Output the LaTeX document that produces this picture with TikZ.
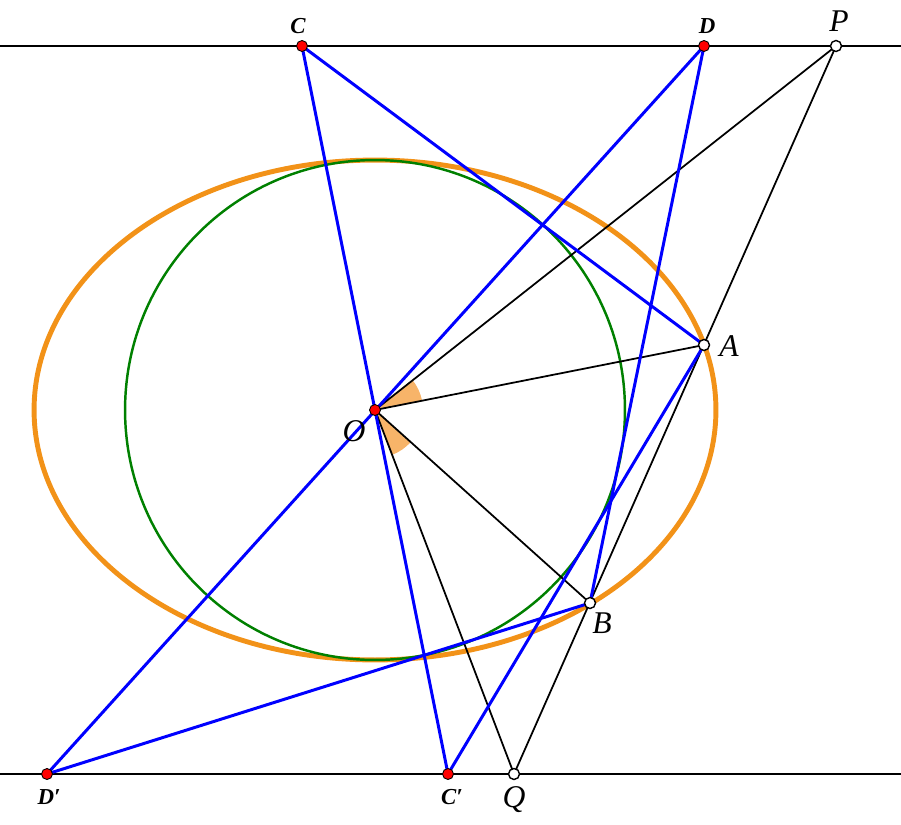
\documentclass[tikz,border=0pt]{standalone}
\usepackage{fontspec}
\setmainfont{Liberation Serif}
\definecolor{ellorange}{RGB}{242,146,24}
\definecolor{angorange}{RGB}{247,180,105}
\definecolor{circgreen}{RGB}{0,128,0}

\begin{document}
\begin{tikzpicture}[x=0.02cm, y=-0.02cm,
    blk/.style={black, line width=1pt},
    blu/.style={blue, line width=1.7pt},
    redpt/.style={fill=red, draw=black, line width=0.5pt},
    openpt/.style={fill=white, draw=black, line width=0.8pt},
    biglab/.style={font=\fontsize{18}{21}\selectfont\itshape},
    smalllab/.style={font=\fontsize{13}{15}\selectfont\bfseries\itshape}]
  \useasboundingbox (0,0) rectangle (901,824);
  \def\r{0.11cm}
  % points
  \coordinate (O) at (375,410);
  \coordinate (A) at (704,345);
  \coordinate (B) at (590,603);
  \coordinate (C) at (302,46);
  \coordinate (D) at (704,46);
  \coordinate (P) at (836,46);
  \coordinate (C') at (448,774);
  \coordinate (D') at (47,774);
  \coordinate (Q) at (514,774);
  \coordinate (TL) at (0,46);
  \coordinate (TR) at (901,46);
  \coordinate (BL) at (0,774);
  \coordinate (BR) at (901,774);
  % angle marks
  \fill[angorange] (O) -- ++(11.2:0.96cm) arc (11.2:38.3:0.96cm) -- cycle;
  \fill[angorange] (O) -- ++(-69.1:0.96cm) arc (-69.1:-41.9:0.96cm) -- cycle;
  % conics
  \draw[ellorange, line width=2.8pt] (O) ellipse (6.82cm and 5cm);
  \draw[circgreen, line width=1.4pt] (O) circle (5cm);
  % black lines
  \draw[blk] (TL) -- (TR);
  \draw[blk] (BL) -- (BR);
  \draw[blk] (P) -- (Q);
  \draw[blk] (O) -- (P);
  \draw[blk] (O) -- (A);
  \draw[blk] (O) -- (B);
  \draw[blk] (O) -- (Q);
  % blue lines
  \draw[blu] (C) -- (C');
  \draw[blu] (D) -- (D');
  \draw[blu] (C) -- (A) -- (C');
  \draw[blu] (D) -- (B) -- (D');
  % dots
  \foreach \p in {O,C,D,C',D'} \draw[redpt] (\p) circle (\r);
  \foreach \p in {A,B,P,Q} \draw[openpt] (\p) circle (\r);
  % labels
  \node[biglab] (labO) at (354,431) {O};
  \node[biglab] (labA) at (729,346) {A};
  \node[biglab] (labB) at (602,623) {B};
  \node[biglab] (labP) at (839,21) {P};
  \node[biglab] (labQ) at (514,800) {Q};
  \node[smalllab] (labC) at (298,26) {C};
  \node[smalllab] (labD) at (707,26) {D};
  \node[smalllab] (labC') at (452,797) {C′};
  \node[smalllab] (labD') at (49,797) {D′};
\end{tikzpicture}
\end{document}
